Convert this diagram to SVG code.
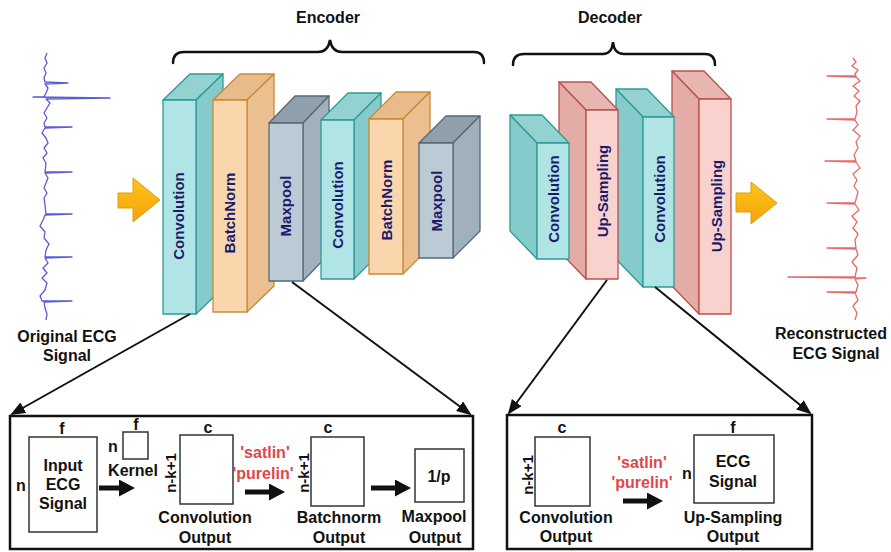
<svg xmlns="http://www.w3.org/2000/svg" width="891" height="552" viewBox="0 0 891 552">
<style>
text{font-family:"Liberation Sans",Arial,sans-serif;font-weight:bold;stroke:none;}
.t16{font-size:16px;fill:#111;text-anchor:middle;}
.blk{font-size:15px;fill:#1b1b6b;text-anchor:middle;dominant-baseline:central;}
.red{font-size:16px;fill:#e0474c;text-anchor:middle;}
.rot{font-size:15px;fill:#111;text-anchor:middle;dominant-baseline:central;}
.cv polygon,.cv rect,.bn polygon,.bn rect,.mp polygon,.mp rect,.up polygon,.up rect{stroke-width:1.3;stroke-linejoin:round;}
.cv .f{fill:#b1e4e4;}.cv .s{fill:#86cbcb;}.cv .t{fill:#93d2d1;}.cv polygon,.cv rect{stroke:#2e9a97;}
.bn .f{fill:#f9d6ab;}.bn .s{fill:#ebbf90;}.bn .t{fill:#e8bb8b;}.bn polygon,.bn rect{stroke:#c98a35;}
.mp .f{fill:#bccad6;}.mp .s{fill:#a0b0bd;}.mp .t{fill:#8f9fac;}.mp polygon,.mp rect{stroke:#56687a;}
.up .f{fill:#f9d2ce;}.up .s{fill:#e3aca7;}.up .t{fill:#e8b6b1;}.up polygon,.up rect{stroke:#b9514d;}
.brace{fill:none;stroke:#111;stroke-width:2.5;stroke-linecap:round;}
.conn{stroke:#111;stroke-width:2;fill:none;}
.thick{stroke:#111;stroke-width:5;fill:none;}
.frame{fill:none;stroke:#111;stroke-width:2.5;}
.box{fill:#fff;stroke:#333;stroke-width:1.5;}
.orange{fill:url(#og);stroke:#dc9d12;stroke-width:1;}
</style>
<defs>
<linearGradient id="og" x1="0" y1="0" x2="0" y2="1">
<stop offset="0" stop-color="#ffc61a"/>
<stop offset="1" stop-color="#f3a20a"/>
</linearGradient>
<marker id="ah" markerUnits="userSpaceOnUse" markerWidth="15" markerHeight="12" refX="13" refY="6" orient="auto">
<path d="M0,0 L15,6 L0,12 z" fill="#111"/>
</marker>
<marker id="bh" markerUnits="userSpaceOnUse" markerWidth="16" markerHeight="17" refX="1" refY="8.5" orient="auto">
<path d="M0,0 L16,8.5 L0,17 z" fill="#111"/>
</marker>
</defs>
<rect width="891" height="552" fill="#fff"/>

<!-- signals -->
<g id="ecg-original">
<polyline fill="none" stroke="#5b5bd6" stroke-width="1.3" stroke-linejoin="round" points="47,53 45,58 47,63 44,68 46,73 44,78 45,82 68,83 45,84 48,88 46,93 44,97 33,97 110,98 46,99 50,103 47,108 44,113 47,118 44,123 45,127 72,127 45,128 42,133 46,138 48,143 44,148 47,153 43,158 46,163 45,172 72,172 45,173 48,178 46,183 44,188 47,193 44,198 45,205 46,214 72,214 45,215 43,220 40,226 45,232 44,238 49,244 46,250 45,257 72,257 45,258 48,263 43,268 47,273 42,278 47,283 45,290 40,296 42,301 72,301 44,302 45,308 47,314 46,320"/>
<text class="t16" x="67" y="342">Original ECG</text>
<text class="t16" x="67" y="361">Signal</text>
</g>
<g id="ecg-reconstructed">
<polyline fill="none" stroke="#e46a6a" stroke-width="1.3" stroke-linejoin="round" points="853,58 856,62 852,66 858,70 855,74 856,76 827,76 856,77 860,81 853,86 859,91 854,96 860,101 856,106 857,112 855,119 827,119 855,120 858,125 853,130 860,136 856,142 858,148 854,155 856,161 825,161 856,162 860,168 853,174 857,180 854,186 858,192 855,203 827,203 855,204 859,210 852,216 857,222 853,228 858,234 855,240 856,248 827,248 856,249 858,255 852,262 857,268 855,277 788,277 866,278 855,279 858,285 856,292 827,292 855,293 858,300 853,306 857,313 855,320"/>
<text class="t16" x="831" y="339">Reconstructed</text>
<text class="t16" x="836" y="359">ECG Signal</text>
</g>

<!-- orange arrows -->
<g id="arrow-in"><path class="orange" d="M118,193 L133,193 L133,178 L160,200 L133,222 L133,208 L118,208 Z"/></g>
<g id="arrow-out"><path class="orange" d="M736,193 L751,193 L751,182 L777,203 L751,224 L751,212 L736,212 Z"/></g>

<!-- braces -->
<g id="encoder-label">
<path class="brace" d="M173,63 Q173,52 184,52 L318,52 Q328,52 330,40 Q332,52 342,52 L474,52 Q484,52 484,63"/>
<text class="t16" x="328" y="23">Encoder</text>
</g>
<g id="decoder-label">
<path class="brace" d="M513,65 Q513,54 524,54 L603,54 Q612,54 613,42 Q614,54 624,54 L705,54 Q715,54 715,65"/>
<text class="t16" x="610" y="23">Decoder</text>
</g>

<!-- encoder blocks -->
<g id="enc-conv1" class="cv">
<polygon class="t" points="163,100 190,74 223,74 196,100"/>
<polygon class="s" points="196,100 223,74 223,288 196,314"/>
<rect class="f" x="163" y="100" width="33" height="214"/>
<text class="blk" transform="translate(178,216) rotate(-90)">Convolution</text>
</g>
<g id="enc-bn1" class="bn">
<polygon class="t" points="213,100 240,74 274,74 247,100"/>
<polygon class="s" points="247,100 274,74 274,286 247,312"/>
<rect class="f" x="213" y="100" width="34" height="212"/>
<text class="blk" transform="translate(229,213) rotate(-90)">BatchNorm</text>
</g>
<g id="enc-mp1" class="mp">
<polygon class="t" points="269,123 295,96 329,96 303,123"/>
<polygon class="s" points="303,123 329,96 329,254 303,281"/>
<rect class="f" x="269" y="123" width="34" height="158"/>
<text class="blk" transform="translate(285,206) rotate(-90)">Maxpool</text>
</g>
<g id="enc-conv2" class="cv">
<polygon class="t" points="321,120 348,93 381,93 354,120"/>
<polygon class="s" points="354,120 381,93 381,252 354,279"/>
<rect class="f" x="321" y="120" width="33" height="159"/>
<text class="blk" transform="translate(337,205) rotate(-90)">Convolution</text>
</g>
<g id="enc-bn2" class="bn">
<polygon class="t" points="369,119 396,92 430,92 403,119"/>
<polygon class="s" points="403,119 430,92 430,247 403,274"/>
<rect class="f" x="369" y="119" width="34" height="155"/>
<text class="blk" transform="translate(386,200) rotate(-90)">BatchNorm</text>
</g>
<g id="enc-mp2" class="mp">
<polygon class="t" points="419,143 446,116 480,116 453,143"/>
<polygon class="s" points="453,143 480,116 480,231 453,258"/>
<rect class="f" x="419" y="143" width="34" height="115"/>
<text class="blk" transform="translate(436,201) rotate(-90)">Maxpool</text>
</g>

<!-- decoder blocks (drawn right to left) -->
<g id="dec-up2" class="up">
<polygon class="t" points="672,71 704,71 731,99 699,99"/>
<polygon class="s" points="672,71 699,99 699,314 672,286"/>
<rect class="f" x="699" y="99" width="32" height="215"/>
<text class="blk" transform="translate(716,206) rotate(-90)">Up-Sampling</text>
</g>
<g id="dec-conv2" class="cv">
<polygon class="t" points="616,89 647,89 674,117 643,117"/>
<polygon class="s" points="616,89 643,117 643,287 616,259"/>
<rect class="f" x="643" y="117" width="31" height="170"/>
<text class="blk" transform="translate(659,199) rotate(-90)">Convolution</text>
</g>
<g id="dec-up1" class="up">
<polygon class="t" points="559,82 591,82 618,110 586,110"/>
<polygon class="s" points="559,82 586,110 586,279 559,251"/>
<rect class="f" x="586" y="110" width="32" height="169"/>
<text class="blk" transform="translate(602,191) rotate(-90)">Up-Sampling</text>
</g>
<g id="dec-conv1" class="cv">
<polygon class="t" points="510,115 542,115 569,143 537,143"/>
<polygon class="s" points="510,115 537,143 537,259 510,231"/>
<rect class="f" x="537" y="143" width="32" height="116"/>
<text class="blk" transform="translate(553,199) rotate(-90)">Convolution</text>
</g>

<!-- connectors -->
<g id="connectors">
<line class="conn" x1="190" y1="314" x2="12" y2="414" marker-end="url(#ah)"/>
<line class="conn" x1="292" y1="282" x2="470" y2="414" marker-end="url(#ah)"/>
<line class="conn" x1="607" y1="280" x2="509" y2="413" marker-end="url(#ah)"/>
<line class="conn" x1="655" y1="287" x2="810" y2="413" marker-end="url(#ah)"/>
<line class="thick" x1="99" y1="488" x2="120" y2="488" marker-end="url(#bh)"/>
<line class="thick" x1="245" y1="492" x2="270" y2="492" marker-end="url(#bh)"/>
<line class="thick" x1="371" y1="488" x2="396" y2="488" marker-end="url(#bh)"/>
<line class="thick" x1="623" y1="501" x2="648" y2="501" marker-end="url(#bh)"/>
</g>

<!-- encoder detail box -->
<g id="encoder-detail">
<rect class="frame" x="10" y="416" width="463" height="133"/>
</g>
<g id="input-ecg">
<rect class="box" x="29" y="437" width="68" height="95"/>
<text class="t16" x="62" y="434">f</text>
<text class="t16" x="21" y="491">n</text>
<text class="t16" x="63" y="471">Input</text>
<text class="t16" x="63" y="490">ECG</text>
<text class="t16" x="63" y="509">Signal</text>
</g>
<g id="kernel">
<rect class="box" x="123" y="432" width="25" height="27"/>
<text class="t16" x="136" y="430">f</text>
<text class="t16" x="113" y="452">n</text>
<text class="t16" x="133" y="476">Kernel</text>
</g>
<g id="conv-output">
<rect class="box" x="180" y="435" width="53" height="69"/>
<text class="t16" x="208" y="433">c</text>
<text class="rot" transform="translate(170,473) rotate(-90)">n-k+1</text>
<text class="t16" x="205" y="523">Convolution</text>
<text class="t16" x="205" y="543">Output</text>
</g>
<g id="act-1">
<text class="red" x="265" y="458">'satlin'</text>
<text class="red" x="263" y="479">'purelin'</text>
</g>
<g id="batchnorm-output">
<rect class="box" x="311" y="437" width="53" height="69"/>
<text class="t16" x="328" y="433">c</text>
<text class="rot" transform="translate(303,473) rotate(-90)">n-k+1</text>
<text class="t16" x="339" y="523">Batchnorm</text>
<text class="t16" x="339" y="543">Output</text>
</g>
<g id="maxpool-output">
<rect class="box" x="415" y="449" width="49" height="53"/>
<text class="t16" x="439" y="482">1/p</text>
<text class="t16" x="434" y="522">Maxpool</text>
<text class="t16" x="435" y="543">Output</text>
</g>

<!-- decoder detail box -->
<g id="decoder-detail">
<rect class="frame" x="507" y="415" width="305" height="134"/>
</g>
<g id="dec-conv-output">
<rect class="box" x="535" y="437" width="55" height="69"/>
<text class="t16" x="562" y="433">c</text>
<text class="rot" transform="translate(527,475) rotate(-90)">n-k+1</text>
<text class="t16" x="566" y="523">Convolution</text>
<text class="t16" x="566" y="542">Output</text>
</g>
<g id="act-2">
<text class="red" x="642" y="468">'satlin'</text>
<text class="red" x="642" y="488">'purelin'</text>
</g>
<g id="upsampling-output">
<rect class="box" x="694" y="435" width="80" height="68"/>
<text class="t16" x="733" y="433">f</text>
<text class="t16" x="687" y="479">n</text>
<text class="t16" x="733" y="467">ECG</text>
<text class="t16" x="733" y="487">Signal</text>
<text class="t16" x="733" y="523">Up-Sampling</text>
<text class="t16" x="733" y="542">Output</text>
</g>
</svg>
